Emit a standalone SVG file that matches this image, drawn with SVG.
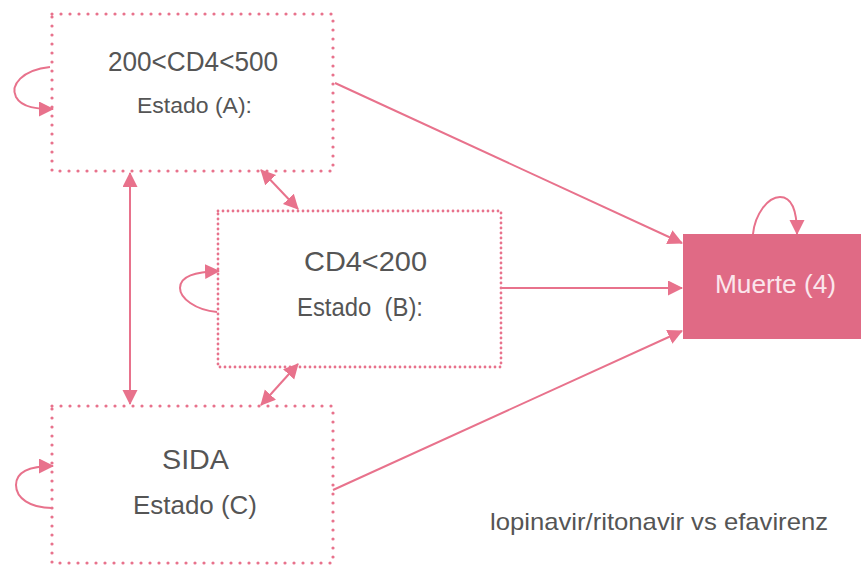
<svg xmlns="http://www.w3.org/2000/svg" width="861" height="565" viewBox="0 0 861 565">
  <style>
    .lbl { font-family: "Liberation Sans", Arial, sans-serif; fill: #555555; text-anchor: middle; white-space: pre; }
    .dotA { fill: none; stroke: #e8728c; stroke-width: 3.2; stroke-linecap: round; stroke-dasharray: 0 9; }
    .dotB { fill: none; stroke: #e8728c; stroke-width: 2.8; stroke-linecap: round; stroke-dasharray: 0 5; }
    .edge { fill: none; stroke: #e8728c; stroke-width: 2; }
  </style>
  <defs>
    <marker id="head" markerUnits="userSpaceOnUse" markerWidth="16" markerHeight="16" refX="14" refY="7.5" orient="auto-start-reverse" viewBox="0 0 16 16">
      <path d="M0,0 L15,7.5 L0,15 z" fill="#e8728c"/>
    </marker>
  </defs>
  <rect width="861" height="565" fill="#ffffff"/>

  <g id="connectors">
    <!-- transitions into the absorbing state -->
    <path class="edge" d="M335,83 L682,243" marker-end="url(#head)"/>
    <path class="edge" d="M501,288 L682,288" marker-end="url(#head)"/>
    <path class="edge" d="M333,490 L682,331" marker-end="url(#head)"/>
    <!-- two-way transitions between states -->
    <path class="edge" d="M130,173 L130,404" marker-start="url(#head)" marker-end="url(#head)"/>
    <path class="edge" d="M261,170 L298,209" marker-start="url(#head)" marker-end="url(#head)"/>
    <path class="edge" d="M298,364 L261,405" marker-start="url(#head)" marker-end="url(#head)"/>
    <!-- self loops -->
    <path class="edge" d="M50,67 C22,70 10,85 16,97 C22,108 38,109 53,109" marker-end="url(#head)"/>
    <path class="edge" d="M217,312 C195,310 180,298 180,288 C180,276 195,272 219,271" marker-end="url(#head)"/>
    <path class="edge" d="M52,508 C30,508 16,498 16,485 C16,472 30,466 53,466" marker-end="url(#head)"/>
    <path class="edge" d="M753,234 C755,214 768,197 780,197 C792,197 797,212 797,234" marker-end="url(#head)"/>
  </g>

  <g id="stateA">
    <rect class="dotA" x="52" y="14" width="281" height="157"/>
    <text class="lbl" x="193" y="71" font-size="27" textLength="170" lengthAdjust="spacingAndGlyphs">200&lt;CD4&lt;500</text>
    <text class="lbl" x="194.5" y="113" font-size="22" textLength="115" lengthAdjust="spacingAndGlyphs">Estado (A):</text>
  </g>

  <g id="stateB">
    <rect class="dotB" x="218" y="211" width="283" height="156"/>
    <text class="lbl" x="365.5" y="271" font-size="28" textLength="123" lengthAdjust="spacingAndGlyphs">CD4&lt;200</text>
    <text class="lbl" x="360" y="316" font-size="26" textLength="126" lengthAdjust="spacingAndGlyphs">Estado  (B):</text>
  </g>

  <g id="stateC">
    <rect class="dotA" x="52" y="406" width="281" height="157"/>
    <text class="lbl" x="195.5" y="469" font-size="28" textLength="67" lengthAdjust="spacingAndGlyphs">SIDA</text>
    <text class="lbl" x="195" y="514" font-size="26" textLength="124" lengthAdjust="spacingAndGlyphs">Estado (C)</text>
  </g>

  <g id="death">
    <rect x="683" y="234" width="178" height="105" fill="#e06a85"/>
    <text class="lbl" x="775.5" y="293" font-size="25" textLength="121" lengthAdjust="spacingAndGlyphs" style="fill:#fbe6ec">Muerte (4)</text>
  </g>

  <g id="caption">
    <text class="lbl" x="490" y="530" font-size="24" textLength="338" lengthAdjust="spacingAndGlyphs" style="text-anchor:start">lopinavir/ritonavir vs efavirenz</text>
  </g>
</svg>
